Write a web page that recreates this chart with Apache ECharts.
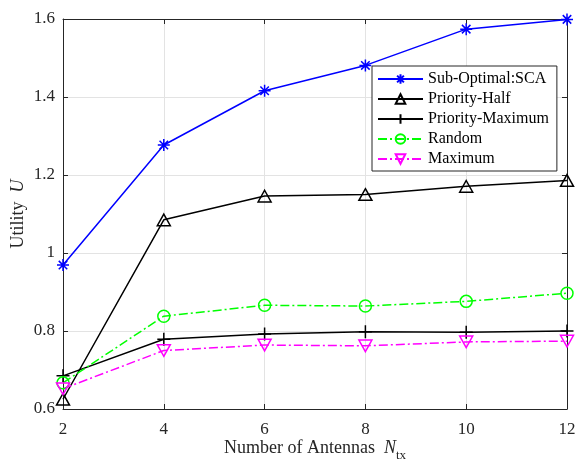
<!DOCTYPE html>
<html><head><meta charset="utf-8">
<script src="https://cdn.jsdelivr.net/npm/echarts@6/dist/echarts.min.js"></script>
<style>html,body{margin:0;padding:0;background:#fff}#c{width:577px;height:465px}</style>
</head><body><div id="c"></div>
<script>
const antennas = [2, 4, 6, 8, 10, 12];
const scaVals = [0.969, 1.277, 1.416, 1.481, 1.574, 1.599];
const halfVals = [0.625, 1.085, 1.146, 1.150, 1.171, 1.186];
const maxPrioVals = [0.685, 0.779, 0.792, 0.798, 0.797, 0.800];
const randomVals = [0.667, 0.838, 0.866, 0.864, 0.876, 0.897];
const maximumVals = [0.652, 0.750, 0.764, 0.762, 0.772, 0.774];
const seriesNames = ['Sub-Optimal:SCA', 'Priority-Half', 'Priority-Maximum', 'Random', 'Maximum'];
const xTicks = [2, 4, 6, 8, 10, 12];
const yTicks = [0.6, 0.8, 1.0, 1.2, 1.4, 1.6];

const FONT = '"Liberation Serif","Times New Roman",serif';
const pairs = v => antennas.map((x, i) => [x, v[i]]);
const STAR = 'path://M0,-1L0,1M-0.707,-0.707L0.707,0.707M-0.707,0.707L0.707,-0.707M-1,0L1,0';
const TRI_UP = 'path://M0,-1L0.95,0.7L-0.95,0.7Z';
const TRI_DN = 'path://M0,1L0.95,-0.7L-0.95,-0.7Z';
const PLUS = 'path://M0,-1L0,1M-1,0L1,0';
const CIRC = 'path://M1,0A1,1 0 1 1 -1,0A1,1 0 1 1 1,0Z';

function mk(name, vals, color, symbol, size, dash) {
  return {
    name, type: 'line', data: pairs(vals), symbol, symbolSize: size, symbolKeepAspect: true,
    lineStyle: { color, width: 1.5, type: dash || 'solid' },
    itemStyle: { color: 'rgba(0,0,0,0)', borderColor: color, borderWidth: 1.5 },
    emphasis: { disabled: true }, animation: false, z: 3
  };
}

const axisLineStyle = { color: '#262626', width: 1 };
const chart = echarts.init(document.getElementById('c'), null, { renderer: 'canvas' });
chart.setOption({
  backgroundColor: '#fff',
  animation: false,
  grid: { left: 63, right: 10, top: 19, bottom: 56, containLabel: false, outerBoundsMode: 'none' },
  legend: {
    orient: 'vertical', left: 372, top: 66,
    data: seriesNames,
    itemWidth: 45, itemHeight: 12, itemGap: 4,
    padding: [5, 8, 4, 5],
    borderColor: '#262626', borderWidth: 1, backgroundColor: '#fff',
    textStyle: { fontFamily: FONT, fontSize: 16, color: '#000' },
    inactiveColor: '#ccc'
  },
  xAxis: [{
    type: 'value', min: 2, max: 12, interval: 2,
    name: 'Number of Antennas  {i|N}{s|tx}', nameLocation: 'middle', nameGap: 26, nameMoveOverlap: false,
    nameTextStyle: { fontFamily: FONT, fontSize: 18, color: '#262626',
      rich: { i: { fontFamily: FONT, fontSize: 18, fontStyle: 'italic', color: '#262626' },
              s: { fontFamily: FONT, fontSize: 13, color: '#262626', padding: [14, 0, 0, 0] } } },
    axisLine: { show: true, onZero: false, lineStyle: axisLineStyle },
    axisTick: { show: true, inside: true, length: 5, lineStyle: axisLineStyle },
    axisLabel: { fontFamily: FONT, fontSize: 17, color: '#262626', margin: 12 },
    splitLine: { show: true, lineStyle: { color: '#e3e3e3', width: 1 } }
  }, {
    type: 'value', min: 2, max: 12, interval: 2, position: 'top',
    axisLine: { show: true, onZero: false, lineStyle: axisLineStyle },
    axisTick: { show: true, inside: true, length: 5, lineStyle: axisLineStyle },
    axisLabel: { show: false }, splitLine: { show: false }
  }],
  yAxis: [{
    type: 'value', min: 0.6, max: 1.6, interval: 0.2,
    name: 'Utility  {i|U}', nameLocation: 'middle', nameGap: 36, nameRotate: 90, nameMoveOverlap: false,
    nameTextStyle: { fontFamily: FONT, fontSize: 18, color: '#262626',
      rich: { i: { fontFamily: FONT, fontSize: 18, fontStyle: 'italic', color: '#262626' } } },
    axisLine: { show: true, onZero: false, lineStyle: axisLineStyle },
    axisTick: { show: true, inside: true, length: 5, lineStyle: axisLineStyle },
    axisLabel: { fontFamily: FONT, fontSize: 17, color: '#262626', margin: 8,
      formatter: v => String(+v.toFixed(1)) },
    splitLine: { show: true, lineStyle: { color: '#e3e3e3', width: 1 } }
  }, {
    type: 'value', min: 0.6, max: 1.6, interval: 0.2, position: 'right',
    axisLine: { show: true, onZero: false, lineStyle: axisLineStyle },
    axisTick: { show: true, inside: true, length: 5, lineStyle: axisLineStyle },
    axisLabel: { show: false }, splitLine: { show: false }
  }],
  series: [
    mk(seriesNames[0], scaVals, '#0000ff', STAR, 12),
    mk(seriesNames[1], halfVals, '#000000', TRI_UP, 13),
    mk(seriesNames[2], maxPrioVals, '#000000', PLUS, 13),
    mk(seriesNames[3], randomVals, '#00ff00', CIRC, 12, [9, 3, 2, 3]),
    mk(seriesNames[4], maximumVals, '#ff00ff', TRI_DN, 13, [9, 3, 2, 3])
  ]
});
</script></body></html>
